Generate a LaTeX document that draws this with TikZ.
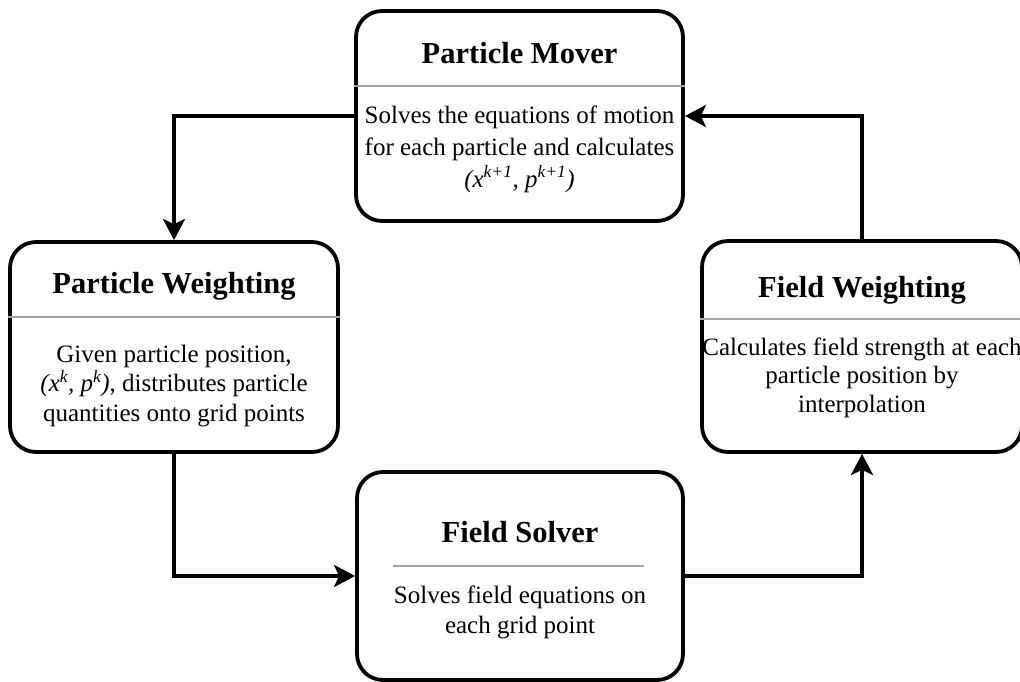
\documentclass[tikz,border=0pt]{standalone}
\usepackage{fontspec}
\setmainfont{Liberation Serif}
\usetikzlibrary{arrows.meta}
\definecolor{rulegray}{RGB}{165,165,165}
\begin{document}
\begin{tikzpicture}[x=1pt,y=-1pt,
  stage/.style={draw=black, line width=3.8pt, rounded corners=26pt, inner sep=0pt, fill=white},
  sep/.style={draw=rulegray, line width=2pt},
  title/.style={font=\fontsize{30.5}{34}\selectfont\bfseries, inner sep=0pt, anchor=base},
  body/.style={font=\fontsize{25}{#1}\selectfont, align=center, inner sep=0pt, anchor=base},
  body/.default=29.5,
  link/.style={line width=3.8pt, line join=miter, -{Stealth[length=21pt,width=22pt,inset=5pt]}}]
\useasboundingbox (0,0) rectangle (1020,682);

% the four stages of the cycle
\node[stage, minimum width=327pt, minimum height=210pt] (pm) at (519.5,116) {};
\node[stage, minimum width=328pt, minimum height=210pt] (pw) at (174,347) {};
\node[stage, minimum width=320pt, minimum height=211pt] (fw) at (862,346.5) {};
\node[stage, minimum width=326pt, minimum height=208pt] (fs) at (520,576) {};

% rules under the headings
\draw[sep] (pm.west |- 0,86) -- (pm.east |- 0,86);
\draw[sep] (pw.west |- 0,317) -- (pw.east |- 0,317);
\draw[sep] (fw.west |- 0,319) -- (fw.east |- 0,319);
\draw[sep] (393,566) -- (644,566);

% headings
\node[title] (pmt) at (519.5,64) {Particle Mover};
\node[title] (pwt) at (174,293) {Particle Weighting};
\node[title] (fwt) at (862,297) {Field Weighting};
\node[title] (fst) at (520,542) {Field Solver};

% descriptions (anchored on the baseline of their last line)
\node[body=32] (pmb) at (519.5,187) {Solves the equations of motion\\for each particle and calculates\\\textit{(x\textsuperscript{k+1}, p\textsuperscript{k+1})}};
\node[body] (pwb) at (174,421) {Given particle position,\\\textit{(x\textsuperscript{k}, p\textsuperscript{k})}, distributes particle\\quantities onto grid points};
\node[body=28.5] (fwb) at (862,412) {Calculates field strength at each\\particle position by\\interpolation};
\node[body] (fsb) at (520,633) {Solves field equations on\\each grid point};

% the cycle
\draw[link] (pm.west) -| (pw.north);
\draw[link] (pw.south) |- (fs.west);
\draw[link] (fs.east) -| (fw.south);
\draw[link] (fw.north) |- (pm.east);
\end{tikzpicture}
\end{document}
